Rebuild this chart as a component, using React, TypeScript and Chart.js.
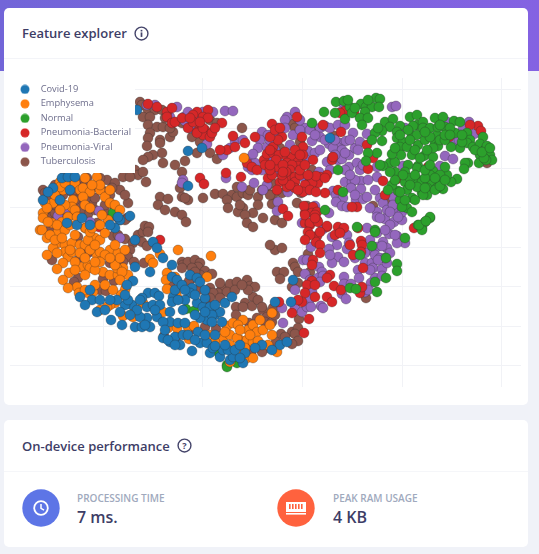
import React, { useEffect, useRef } from "react";
import { Chart, registerables } from "chart.js";
Chart.register(...registerables);

const names = ["Covid-19", "Emphysema", "Normal", "Pneumonia-Bacterial", "Pneumonia-Viral", "Tuberculosis"];
const colors = ["#1f77b4", "#ff7f0e", "#2ca02c", "#d62728", "#9467bd", "#8c564b"];
const xTicks = [103, 202.5, 302, 402, 501.5];
const yTicks = [89, 128.5, 168, 207.5, 247, 286.5, 326, 365.5];

const covid = [[188,151],[202,148],[188,186],[137,110],[62,178],[68,177],[75,177],[53,188],[43,200],[48,192],[77,225],[67,223],[130,216],[120,220],[118,217],[115,228],[153,242],[157,248],[163,258],[172,265],[150,272],[135,267],[133,281],[127,285],[172,277],[177,280],[173,297],[172,302],[170,312],[190,275],[197,278],[192,288],[190,293],[185,300],[197,303],[203,307],[210,307],[215,315],[207,320],[220,312],[225,303],[232,297],[148,293],[155,293],[159,296],[132,305],[125,305],[120,312],[97,312],[92,300],[80,297],[111,320],[122,325],[135,327],[142,327],[150,327],[147,318],[140,317],[137,310],[147,307],[153,305],[157,317],[170,322],[178,323],[185,323],[163,338],[170,342],[180,345],[175,337],[198,332],[200,343],[207,343],[192,351],[210,353],[213,348],[220,357],[223,350],[230,360],[233,357],[243,363],[245,353],[291,302],[275,302],[280,345],[287,342],[272,350],[293,280],[330,138],[200,282],[128,300],[142,298],[163,322],[178,300],[183,310],[205,298],[212,315],[160,305],[117,300],[100,300],[215,346],[228,350],[125,295],[130,315],[140,300],[145,325],[155,310],[165,330],[168,340],[175,345],[183,335],[188,335],[195,340],[205,335],[215,335],[225,345],[235,350],[240,358],[262,345],[255,348],[175,290],[182,285],[185,290],[195,295],[205,290],[215,305],[212,322],[222,322],[200,318],[195,315],[205,312],[110,300],[105,310],[85,305],[90,290],[240,345],[70,190],[60,200],[90,225],[82,218],[110,225],[135,240]];
const emphysema = [[60,182],[70,187],[75,183],[80,190],[83,188],[97,177],[90,192],[100,190],[105,197],[83,197],[73,200],[72,207],[63,190],[60,187],[53,203],[45,203],[43,213],[47,208],[43,218],[52,223],[40,230],[75,210],[78,217],[68,217],[62,222],[85,228],[108,220],[244,158],[100,185],[110,203],[42,230],[47,238],[58,232],[58,243],[65,245],[72,243],[80,245],[85,245],[95,238],[100,240],[86,228],[105,233],[53,248],[65,252],[57,253],[47,255],[68,257],[72,252],[80,253],[97,255],[100,252],[110,250],[118,253],[105,255],[100,262],[63,263],[57,269],[69,273],[63,280],[81,267],[88,265],[90,268],[103,272],[110,275],[118,275],[123,268],[128,275],[117,268],[126,287],[125,290],[121,295],[77,287],[79,293],[93,292],[88,293],[115,303],[110,305],[107,307],[100,310],[143,303],[135,309],[133,317],[123,316],[163,312],[150,259],[153,263],[160,254],[178,250],[211,256],[167,273],[166,280],[175,277],[167,289],[177,290],[177,297],[207,277],[168,328],[177,328],[188,327],[194,326],[189,339],[209,335],[217,338],[223,338],[230,335],[227,326],[233,323],[243,320],[248,330],[253,325],[257,332],[263,330],[240,340],[247,340],[253,342],[258,341],[237,338],[236,351],[230,362],[247,358],[253,358],[240,352],[277,352],[272,335],[272,313],[68,217],[77,217],[57,225],[90,250],[88,240],[75,262],[85,258],[115,265],[122,272],[250,335],[245,348],[270,325],[95,270],[60,200],[65,205],[85,205],[50,235],[55,240],[65,230],[70,225],[75,235],[62,238],[70,250],[90,232],[92,228],[95,245],[100,225],[115,245],[125,250],[120,258],[110,258],[95,262],[85,275],[75,270],[68,288],[95,285],[85,290],[105,285],[120,280],[113,290],[60,210],[55,195],[65,183],[85,178],[92,185],[110,190],[115,205],[120,210],[102,215],[90,208],[48,222],[230,345],[215,342],[225,332],[238,325],[260,320],[268,345],[240,330]];
const normal = [[336,102],[344,101],[324,112],[335,113],[345,119],[350,107],[352,113],[361,104],[366,107],[372,107],[376,98],[380,99],[379,107],[365,112],[360,118],[368,118],[362,125],[385,122],[393,119],[390,127],[410,117],[417,115],[417,125],[423,122],[413,126],[400,126],[397,132],[397,138],[403,142],[400,147],[407,147],[412,136],[417,135],[423,128],[430,128],[435,118],[443,117],[437,135],[438,127],[445,127],[454,121],[460,122],[455,133],[467,133],[470,140],[467,143],[473,147],[460,148],[451,147],[483,137],[480,144],[485,150],[490,155],[480,155],[479,163],[492,160],[468,163],[465,163],[464,169],[457,179],[451,182],[443,189],[438,183],[447,175],[445,167],[433,171],[424,156],[433,157],[418,166],[417,168],[408,165],[405,172],[395,172],[390,163],[395,162],[383,166],[401,155],[392,154],[418,145],[425,140],[435,143],[438,146],[433,148],[427,150],[430,137],[418,180],[422,182],[428,180],[432,183],[437,188],[427,188],[422,193],[417,187],[427,195],[423,195],[405,182],[407,190],[398,191],[412,198],[400,200],[407,208],[402,207],[392,185],[388,190],[430,218],[425,222],[418,225],[422,228],[377,153],[368,153],[366,161],[382,131],[375,133],[378,128],[372,140],[382,141],[338,170],[312,123],[325,210],[343,192],[357,227],[375,230],[350,288],[356,289],[377,292],[386,278],[397,264],[397,271],[405,238],[375,232],[372,246],[360,255],[386,258],[375,282],[422,230],[430,217],[419,225],[426,221],[113,213],[186,309],[194,311],[219,353],[227,365],[227,367],[237,363],[425,132],[440,140],[445,140],[430,175],[425,178],[435,190],[440,186],[410,178],[415,200],[408,130],[450,128],[462,142],[487,146],[486,160],[484,158],[412,155],[403,175],[400,135],[410,140],[415,150],[420,158],[425,170],[430,165],[440,175],[445,180],[435,178],[425,188],[410,185],[415,175],[405,200],[395,180],[390,172],[440,125],[445,135],[450,135],[462,135],[475,150],[482,152],[490,148],[395,148],[380,165],[412,212],[400,192],[348,100],[355,108],[368,100]];
const bacterial = [[148,104],[157,107],[167,112],[172,108],[167,117],[172,123],[175,122],[182,118],[197,112],[208,110],[203,117],[193,115],[208,118],[200,127],[197,132],[205,130],[188,128],[203,135],[210,137],[212,133],[197,133],[222,123],[233,136],[255,137],[245,143],[227,150],[220,150],[235,147],[247,163],[252,167],[257,170],[264,160],[267,154],[200,178],[204,184],[226,173],[241,177],[160,240],[99,227],[252,345],[272,124],[297,117],[323,125],[282,137],[273,147],[278,140],[341,132],[367,145],[373,158],[368,169],[383,181],[397,179],[354,112],[345,111],[340,113],[449,137],[428,167],[478,126],[481,131],[470,125],[338,190],[385,195],[357,207],[352,207],[327,175],[313,160],[325,193],[332,160],[333,157],[302,137],[303,147],[303,155],[283,209],[288,216],[313,207],[305,213],[312,213],[317,212],[305,223],[317,220],[327,227],[310,225],[273,153],[279,155],[287,157],[292,157],[298,162],[298,166],[287,163],[292,165],[277,167],[290,170],[280,182],[290,177],[295,177],[295,182],[287,187],[295,188],[290,185],[310,178],[320,177],[318,183],[312,183],[305,185],[277,190],[304,206],[283,180],[338,227],[358,228],[414,228],[305,215],[315,215],[310,223],[318,222],[327,226],[308,232],[317,236],[316,242],[320,245],[320,253],[313,260],[312,265],[344,228],[335,235],[340,233],[350,245],[353,255],[361,241],[362,245],[361,252],[363,268],[330,275],[327,278],[312,281],[307,285],[315,285],[334,286],[341,290],[305,293],[302,302],[298,300],[315,297],[327,297],[332,302],[360,293],[362,287],[292,313],[309,319],[304,333],[279,302],[286,172],[282,175],[300,175],[303,192],[298,190],[276,160],[270,137],[268,178],[272,175],[310,190],[316,192],[316,176],[193,122],[203,128],[265,165],[270,170],[283,165],[283,172],[270,165],[285,152],[295,150],[300,170],[305,165],[270,150],[308,175],[325,178],[275,130],[280,128],[300,155],[315,218],[320,232],[310,235],[305,240],[190,118],[200,122],[215,128]];
const viral = [[155,105],[147,105],[177,107],[170,117],[184,117],[188,112],[195,120],[190,128],[203,112],[213,112],[225,111],[233,111],[185,121],[207,144],[223,155],[230,148],[235,141],[243,140],[262,132],[268,135],[260,140],[258,148],[248,159],[255,163],[248,167],[253,154],[267,147],[252,170],[262,170],[254,183],[267,185],[263,190],[226,178],[242,187],[183,180],[182,183],[99,211],[90,222],[68,210],[58,216],[120,238],[287,117],[285,120],[278,128],[285,128],[293,135],[277,135],[305,128],[300,130],[320,128],[325,126],[330,128],[338,125],[320,137],[312,141],[329,144],[340,143],[346,141],[337,147],[333,148],[342,150],[308,151],[315,153],[320,150],[332,158],[338,160],[342,159],[327,162],[349,155],[355,148],[360,142],[358,150],[353,133],[367,134],[349,167],[357,163],[360,170],[363,165],[377,167],[377,177],[345,182],[352,182],[361,181],[355,180],[351,188],[361,189],[333,191],[336,195],[343,198],[336,202],[342,206],[347,207],[356,200],[363,199],[367,197],[380,198],[383,203],[377,212],[393,197],[395,212],[387,210],[377,217],[385,219],[394,222],[402,220],[402,212],[398,217],[380,218],[329,213],[315,206],[303,177],[308,190],[319,172],[307,160],[288,192],[278,202],[277,172],[278,162],[272,157],[392,107],[396,106],[447,122],[463,129],[460,135],[469,122],[454,143],[474,134],[459,140],[405,128],[403,166],[445,156],[453,159],[440,166],[343,103],[341,112],[277,211],[302,223],[323,229],[377,233],[389,234],[347,235],[332,237],[337,245],[329,249],[347,249],[349,243],[311,247],[367,228],[397,236],[405,243],[397,243],[383,242],[387,248],[377,247],[371,250],[365,253],[390,253],[382,246],[338,257],[332,263],[344,262],[303,260],[307,260],[365,263],[372,263],[373,268],[382,269],[387,263],[358,270],[359,278],[319,267],[322,272],[318,278],[323,276],[305,274],[344,277],[344,284],[351,284],[375,278],[382,276],[371,283],[365,292],[368,290],[342,294],[346,299],[312,292],[310,299],[321,306],[323,308],[295,290],[295,308],[302,312],[307,307],[311,307],[282,308],[283,323],[393,205],[390,212],[370,240],[375,255],[380,258],[335,140],[345,153],[270,140],[275,150],[290,145],[300,120],[295,112],[310,130],[315,135],[325,140],[345,125],[350,140],[335,155],[330,170],[345,170],[350,175],[368,180],[375,190],[355,195],[370,208],[390,225],[385,230],[395,235],[385,258],[355,258],[330,255],[370,270],[378,260],[320,282],[310,280]];
const tuberculosis = [[140,102],[142,105],[148,110],[155,110],[162,110],[143,117],[150,117],[148,125],[157,127],[163,127],[150,133],[148,138],[147,146],[160,140],[160,143],[170,137],[173,132],[182,123],[192,137],[200,142],[197,153],[210,120],[217,123],[210,153],[217,159],[162,153],[153,155],[148,157],[143,160],[163,163],[185,161],[135,170],[138,175],[143,172],[146,182],[182,172],[183,182],[180,188],[182,197],[160,197],[168,199],[158,205],[165,210],[175,212],[182,215],[186,222],[188,200],[185,198],[203,198],[215,194],[223,194],[232,195],[237,187],[237,197],[227,200],[228,208],[243,193],[248,195],[258,197],[262,190],[267,187],[258,205],[253,213],[243,208],[238,212],[245,215],[247,223],[253,227],[263,218],[242,128],[43,190],[45,193],[63,178],[77,182],[87,178],[95,187],[107,180],[115,183],[123,177],[130,177],[92,203],[87,197],[110,195],[113,205],[117,217],[127,218],[120,220],[128,203],[63,195],[53,197],[63,208],[57,213],[50,217],[62,210],[63,227],[50,230],[52,217],[55,213],[63,212],[88,214],[97,223],[125,220],[78,237],[91,243],[88,253],[87,247],[52,260],[77,261],[113,236],[118,235],[125,239],[133,243],[138,235],[143,232],[145,226],[149,227],[148,232],[142,242],[147,246],[130,250],[128,257],[123,262],[117,262],[110,263],[134,262],[144,263],[103,279],[114,281],[78,278],[74,282],[100,290],[106,291],[156,311],[171,287],[182,262],[183,265],[188,262],[195,260],[200,263],[198,267],[192,268],[182,268],[205,271],[212,274],[191,279],[189,281],[198,290],[210,288],[208,292],[222,288],[218,293],[213,293],[230,284],[237,282],[247,280],[250,286],[255,287],[253,297],[248,290],[227,292],[220,298],[210,298],[205,300],[245,303],[236,307],[252,306],[236,315],[243,307],[263,310],[249,323],[257,318],[267,317],[265,322],[205,327],[216,329],[193,329],[177,336],[164,336],[251,353],[266,348],[262,352],[275,250],[282,248],[293,263],[295,267],[298,272],[277,272],[284,272],[280,279],[298,283],[292,287],[310,272],[308,254],[273,308],[272,322],[299,319],[281,334],[292,332],[298,328],[295,334],[285,337],[298,341],[292,344],[276,342],[366,298],[275,220],[282,223],[270,245],[292,124],[295,128],[312,127],[300,142],[280,148],[334,136],[312,170],[272,183],[282,193],[301,193],[273,195],[297,203],[307,206],[272,204],[373,206],[389,199],[487,163],[70,185],[80,195],[100,178],[120,190],[125,195],[60,190],[70,215],[78,205],[95,210],[105,212],[200,275],[220,283],[235,290],[242,285],[258,300],[262,307],[275,315],[195,272],[175,165],[170,128],[165,118],[240,205],[250,190],[270,195],[55,185],[72,192],[85,185],[102,190],[112,188],[75,200],[95,198],[105,205],[55,205],[80,212],[47,200]];

const series = [covid, emphysema, normal, bacterial, viral, tuberculosis];

function legendMarker(color: string) {
  const c = document.createElement("canvas");
  c.width = 10; c.height = 10;
  const g = c.getContext("2d")!;
  g.fillStyle = color;
  g.beginPath(); g.arc(5, 5, 4.5, 0, Math.PI * 2); g.fill();
  return c;
}

const legendCover = {
  id: "legendCover",
  afterLayout(chart: any) { chart.legend.top = 19.5; chart.legend.left = 4.8; },
  afterDatasetsDraw(chart: any) {
    const { ctx } = chart;
    ctx.save();
    ctx.fillStyle = "#ffffff";
    ctx.fillRect(0, 18, 131, 95);
    ctx.restore();
    chart.legend.draw();
  },
};

const iconStroke = "#44446a";
const font = "'Open Sans', 'Noto Sans', sans-serif";

function Card({ top, height, children }: any) {
  return <div style={{ position: "absolute", left: 4, top, width: 524, height, background: "#fff", borderRadius: 5 }}>{children}</div>;
}
function Txt({ x, y, size, weight, color, children }: any) {
  return <div style={{ position: "absolute", left: x, top: y, fontFamily: font, fontSize: size, fontWeight: weight, color, lineHeight: "20px", whiteSpace: "nowrap" }}>{children}</div>;
}

export default function App() {
  const ref = useRef<HTMLCanvasElement>(null);
  useEffect(() => {
    document.body.style.margin = "0";
    const chart = new Chart(ref.current!, {
      type: "scatter",
      data: {
        datasets: series.map((s, i) => ({
          label: names[i],
          data: s.map(([x, y]) => ({ x, y })),
          backgroundColor: colors[i],
          borderColor: "rgba(40,40,40,0.5)",
          borderWidth: 0.6,
          pointRadius: 5,
        })),
      },
      options: {
        animation: false,
        responsive: false,
        layout: { padding: { left: 6, right: 7, top: 18, bottom: 8 } },
        scales: {
          x: {
            type: "linear", min: 10, max: 521,
            afterBuildTicks: (a: any) => { a.ticks = xTicks.map((value) => ({ value })); },
            ticks: { display: false }, border: { display: false },
            grid: { color: "#f1f2f6", lineWidth: 1, drawTicks: false },
          },
          y: {
            type: "linear", min: 78, max: 387, reverse: true,
            afterBuildTicks: (a: any) => { a.ticks = yTicks.map((value) => ({ value })); },
            ticks: { display: false }, border: { display: false },
            grid: { color: "#f1f2f6", lineWidth: 1, drawTicks: false },
          },
        },
        plugins: {
          tooltip: { enabled: false },
          legend: {
            position: "chartArea" as any,
            align: "start",
            labels: {
              usePointStyle: true,
              pointStyleWidth: 22,
              padding: 5.2,
              color: "#6e6e8c",
              font: { family: font, size: 9.3 },
              generateLabels: (c: any) =>
                c.data.datasets.map((d: any, i: number) => ({
                  text: d.label, datasetIndex: i, pointStyle: legendMarker(colors[i]),
                  fontColor: "#6e6e8c", lineWidth: 0, strokeStyle: "transparent", fillStyle: colors[i],
                })),
            },
          },
        },
      },
      plugins: [legendCover],
    } as any);
    return () => chart.destroy();
  }, []);

  return (
    <div style={{ position: "absolute", left: 0, top: 0, width: 539, height: 554, background: "#f0f2f8", overflow: "hidden" }}>
      <div style={{ position: "absolute", left: 0, top: 0, width: 539, height: 71, background: "linear-gradient(90deg,#7265d8,#8462e2)" }} />
      <Card top={8} height={397}>
        <div style={{ position: "absolute", left: 0, top: 50, width: 524, height: 1, background: "#f3f4f8" }} />
        <Txt x={18} y={15} size={13} weight={600} color="#3d3d66">Feature explorer</Txt>
        <svg style={{ position: "absolute", left: 130, top: 18 }} width="15" height="15" viewBox="0 0 14 14">
          <circle cx="7" cy="7" r="6" fill="none" stroke={iconStroke} strokeWidth="1.3" />
          <rect x="6.2" y="6" width="1.6" height="4.2" fill={iconStroke} />
          <rect x="6.2" y="3.6" width="1.6" height="1.5" fill={iconStroke} />
        </svg>
        <canvas ref={ref} width={524} height={335} style={{ position: "absolute", left: 0, top: 52, display: "block" }} />
      </Card>
      <Card top={420} height={127}>
        <div style={{ position: "absolute", left: 0, top: 51, width: 524, height: 1, background: "#f5f6f9" }} />
        <Txt x={18} y={16} size={13} weight={600} color="#3d3d66">On-device performance</Txt>
        <svg style={{ position: "absolute", left: 173, top: 18 }} width="15" height="15" viewBox="0 0 14 14">
          <circle cx="7" cy="7" r="6" fill="none" stroke={iconStroke} strokeWidth="1.3" />
          <text x="7" y="10" textAnchor="middle" fontSize="8.5" fontWeight="700" fontFamily={font} fill={iconStroke}>?</text>
        </svg>
        <svg style={{ position: "absolute", left: 18, top: 69 }} width="38" height="38" viewBox="0 0 38 38">
          <circle cx="19" cy="19" r="18.7" fill="#5d75e6" />
          <circle cx="19" cy="19" r="6.8" fill="none" stroke="#fff" strokeWidth="1.8" />
          <path d="M19 15v4.3l3 1.8" fill="none" stroke="#fff" strokeWidth="1.5" />
        </svg>
        <Txt x={73} y={68} size={10} weight={600} color="#a0a9bd">PROCESSING TIME</Txt>
        <Txt x={73} y={87} size={16} weight={600} color="#3d3d66">7 ms.</Txt>
        <svg style={{ position: "absolute", left: 273, top: 69 }} width="38" height="38" viewBox="0 0 38 38">
          <circle cx="19" cy="19" r="18.7" fill="#ff623e" />
          <rect x="9" y="13" width="20" height="10" fill="#fff" />
          <rect x="9" y="24" width="20" height="1.6" fill="#fff" />
          {[12, 15, 18, 21, 24].map((x) => <rect key={x} x={x} y="15" width="1.6" height="5" fill="#ff623e" />)}
        </svg>
        <Txt x={329} y={68} size={10} weight={600} color="#a0a9bd">PEAK RAM USAGE</Txt>
        <Txt x={329} y={87} size={16} weight={600} color="#3d3d66">4 KB</Txt>
      </Card>
    </div>
  );
}
